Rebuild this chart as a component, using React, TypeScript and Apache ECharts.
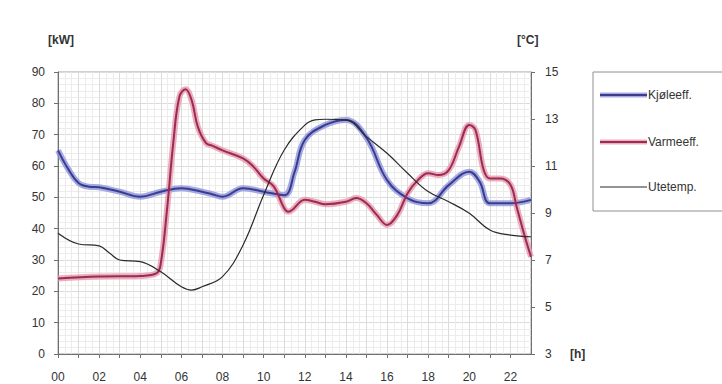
import React, { useEffect, useRef } from "react";
import * as echarts from "echarts";

const hourTicks = ["00", "02", "04", "06", "08", "10", "12", "14", "16", "18", "20", "22"];
const legendNames = ["Kjøleeff.", "Varmeeff.", "Utetemp."];

const kjoleHours = [0, 0.5, 1, 1.5, 2, 3, 4, 5, 6, 7, 7.5, 8, 9, 10, 11, 11.5, 12, 13, 14, 15, 16, 17, 18, 19, 20, 20.5, 21, 22, 23];
const kjoleValues = [65, 59, 54.6, 53.4, 53.2, 51.8, 50.2, 51.8, 52.9, 51.8, 51, 50.2, 52.9, 51.8, 50.7, 58, 68.3, 73.1, 74.7, 69, 55.5, 49.7, 48.1, 53.9, 58.2, 55, 48.1, 48.1, 49.2];

const varmeHours = [0, 2, 4, 4.8, 5, 5.3, 5.6, 5.9, 6.2, 6.5, 6.8, 7.2, 7.5, 8, 9, 9.5, 10, 10.5, 11, 11.2, 12, 12.5, 13, 14, 14.5, 15, 15.5, 16, 16.5, 17, 17.5, 18, 18.5, 19, 19.5, 20, 20.3, 20.7, 21, 21.5, 22, 22.3, 22.7, 23];
const varmeValues = [24.1, 24.7, 24.9, 25.8, 29, 46, 67, 82, 84.5, 81, 72.5, 67.3, 66.5, 65, 62.4, 59.8, 56, 53.4, 46.5, 45.4, 49.2, 48.6, 47.8, 48.6, 49.8, 48.1, 44.4, 41.2, 44.4, 51.3, 55.5, 57.7, 57.1, 58.7, 66.2, 73.1, 71.5, 58.7, 56, 56, 54, 47, 37.5, 31];

const uteHours = [0, 1, 2, 2.5, 3, 4, 5, 6, 6.5, 7, 8, 9, 10, 11, 12, 12.5, 13, 14, 15, 16, 17, 18, 19, 20, 21, 22, 23];
const uteValues = [8.14, 7.68, 7.6, 7.3, 7.0, 6.93, 6.5, 5.86, 5.72, 5.86, 6.29, 7.64, 9.77, 11.68, 12.74, 12.96, 12.99, 12.96, 12.25, 11.54, 10.69, 9.91, 9.48, 8.99, 8.28, 8.06, 7.99];

const pairs = (xs: number[], ys: number[]) => xs.map((x, i) => [x, ys[i]]);

export default function App() {
  const ref = useRef<HTMLDivElement>(null);
  useEffect(() => {
    if (!ref.current) return;
    const chart = echarts.init(ref.current, undefined, { renderer: "svg" });
    const font = "Liberation Sans";
    const txt = "#333";
    const legendY = [95, 142, 187];
    const legendLines: any[] = [
      { type: "line", shape: { x1: 600, y1: legendY[0], x2: 647, y2: legendY[0] }, style: { stroke: "#8f95dd", lineWidth: 5, opacity: 0.8 } },
      { type: "line", shape: { x1: 600, y1: legendY[0], x2: 647, y2: legendY[0] }, style: { stroke: "#3a3c8c", lineWidth: 2 } },
      { type: "line", shape: { x1: 600, y1: legendY[1], x2: 647, y2: legendY[1] }, style: { stroke: "#e898b0", lineWidth: 5, opacity: 0.8 } },
      { type: "line", shape: { x1: 600, y1: legendY[1], x2: 647, y2: legendY[1] }, style: { stroke: "#9a2c50", lineWidth: 2 } },
      { type: "line", shape: { x1: 600, y1: legendY[2], x2: 647, y2: legendY[2] }, style: { stroke: "#2a2a2a", lineWidth: 1.2 } },
    ];
    const legendTexts = legendNames.map((n, i) => ({
      type: "text",
      x: 648,
      y: legendY[i],
      style: { text: n, font: `12px ${font}`, fill: txt, verticalAlign: "middle" },
    }));
    chart.setOption({
      animation: false,
      backgroundColor: "#ffffff",
      textStyle: { fontFamily: font },
      grid: { left: 58, right: 191, top: 72, bottom: 30, show: true, borderColor: "#a0a0a0", borderWidth: 1 },
      legend: { show: false },
      graphic: [
        { type: "rect", shape: { x: 593, y: 72, width: 140, height: 139 }, style: { fill: "none", stroke: "#909090", lineWidth: 1 } },
        ...legendLines,
        ...legendTexts,
        { type: "text", x: 48, y: 40, style: { text: "[kW]", font: `bold 12px ${font}`, fill: txt, verticalAlign: "middle" } },
        { type: "text", x: 517, y: 40, style: { text: "[°C]", font: `bold 12px ${font}`, fill: txt, verticalAlign: "middle" } },
        { type: "text", x: 570, y: 354, style: { text: "[h]", font: `bold 12px ${font}`, fill: txt, verticalAlign: "middle" } },
      ],
      xAxis: {
        type: "value",
        min: 0,
        max: 23,
        interval: 1,
        axisLine: { show: true, lineStyle: { color: "#707070", width: 1 } },
        axisTick: { show: true, length: 4, lineStyle: { color: "#707070" } },
        axisLabel: {
          margin: 17,
          fontSize: 12,
          color: txt,
          fontFamily: font,
          showMaxLabel: false,
          formatter: (v: number) => (v % 2 === 0 ? hourTicks[v / 2] : ""),
        },
        splitLine: { show: true, lineStyle: { color: "#dcdcdc", width: 1 } },
        minorTick: { show: false, splitNumber: 3 },
        minorSplitLine: { show: true, lineStyle: { color: "#ececec", width: 1 } },
      },
      yAxis: [
        {
          type: "value",
          min: 0,
          max: 90,
          interval: 10,
          axisLine: { show: true, lineStyle: { color: "#707070", width: 1 } },
          axisTick: { show: true, length: 4, lineStyle: { color: "#707070" } },
          axisLabel: { margin: 13, fontSize: 12, color: txt, fontFamily: font },
          splitLine: { show: true, lineStyle: { color: "#dcdcdc", width: 1 } },
          minorTick: { show: false, splitNumber: 5 },
          minorSplitLine: { show: true, lineStyle: { color: "#ececec", width: 1 } },
        },
        {
          type: "value",
          min: 3,
          max: 15,
          interval: 2,
          position: "right",
          axisLine: { show: true, lineStyle: { color: "#707070", width: 1 } },
          axisTick: { show: true, length: 4, lineStyle: { color: "#707070" } },
          axisLabel: { margin: 14, fontSize: 12, color: txt, fontFamily: font },
          splitLine: { show: false },
        },
      ],
      series: [
        {
          type: "line",
          name: "halo-k",
          data: pairs(kjoleHours, kjoleValues),
          smooth: 0.4,
          symbol: "none",
          silent: true,
          lineStyle: { color: "#8f95dd", width: 6, opacity: 0.8 },
        },
        {
          type: "line",
          name: "halo-v",
          data: pairs(varmeHours, varmeValues),
          smooth: 0.4,
          symbol: "none",
          silent: true,
          lineStyle: { color: "#e898b0", width: 6, opacity: 0.8 },
        },
        {
          type: "line",
          name: legendNames[0],
          data: pairs(kjoleHours, kjoleValues),
          smooth: 0.4,
          symbol: "none",
          lineStyle: { color: "#3a3c8c", width: 2 },
          itemStyle: { color: "#3a3c8c" },
        },
        {
          type: "line",
          name: legendNames[1],
          data: pairs(varmeHours, varmeValues),
          smooth: 0.4,
          symbol: "none",
          lineStyle: { color: "#9a2c50", width: 2 },
          itemStyle: { color: "#9a2c50" },
        },
        {
          type: "line",
          name: legendNames[2],
          yAxisIndex: 1,
          data: pairs(uteHours, uteValues),
          smooth: 0.4,
          symbol: "none",
          lineStyle: { color: "#2a2a2a", width: 1.2 },
          itemStyle: { color: "#2a2a2a" },
        },
      ],
    });
    return () => chart.dispose();
  }, []);
  return <div ref={ref} style={{ width: 722, height: 384, position: "absolute", left: 0, top: 0 }} />;
}
